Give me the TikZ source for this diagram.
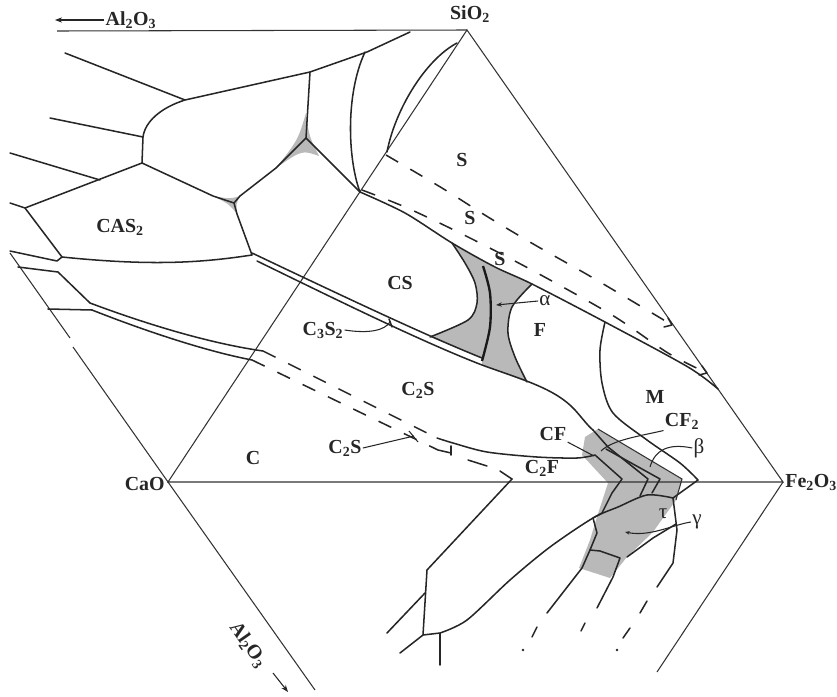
\documentclass[tikz,border=0pt]{standalone}
\usepackage{fontspec}
\setmainfont{Liberation Serif}
\usetikzlibrary{arrows.meta,calc}

\begin{document}
\begin{tikzpicture}[x=0.03cm,y=-0.03cm,
  every node/.style={font=\fontsize{17}{19}\selectfont\bfseries,text=black!85,inner sep=1pt},
  greek/.style={font=\fontsize{18}{20}\selectfont\mdseries},
  edge/.style={black!80,line width=0.9pt},
  bnd/.style={black!85,line width=1.3pt,line join=round,line cap=round},
  dsh/.style={black!85,line width=1.3pt,dash pattern=on 12pt off 12pt},
  thick line/.style={black!90,line width=2pt},
  shade/.style={fill=gray!55},
  lead/.style={black!85,line width=0.9pt}]
\useasboundingbox (0,0) rectangle (837,696);

\coordinate (SiO2) at (467,30);
\coordinate (CaO) at (168,482);
\coordinate (Fe2O3) at (783,482);

% shaded fields
\fill[shade] plot[smooth] coordinates {(452,243) (465,263) (475,283) (477,303) (468,320) (430,337)}
  -- (482,358) -- (482,365) -- (527,382)
  -- plot[smooth] coordinates {(527,382) (515,357) (508,333) (512,307) (532,284)}
  -- (495,267) -- cycle;
\fill[shade] (306,113) .. controls (298,140) .. (276,168) .. controls (302,150) .. (319,156) .. controls (309,136) .. (306,113) -- cycle;
\fill[shade] (213,196) .. controls (230,199) .. (240,196) .. controls (236,204) .. (237,214) .. controls (229,204) .. (213,196) -- cycle;
\fill[shade] (585,437) -- (598,429) -- (682,479) -- (676,500) -- (653,532) -- (627,557) -- (610,578)
  -- (579,568) -- (590,540) -- (596,520) -- (608,483) -- (582,455) -- cycle;

% triangle edges
\draw[edge] (57,31) -- (SiO2);
\draw[edge] (SiO2) -- (CaO) -- (Fe2O3) -- cycle;
\draw[edge] (10,253) -- (70,338);
\draw[edge] (73,347) -- (CaO) -- (315,690);
\draw[edge] (Fe2O3) -- (657,672);

% CaO-Al2O3-SiO2 side
\draw[bnd] (410,32) -- (367,52) -- (310,72) -- (185,100) -- (65,53);
\draw[bnd] (185,100) .. controls (160,108) and (145,122) .. (143,137) -- (142,163);
\draw[bnd] (50,118) -- (143,137);
\draw[bnd] (10,153) -- (100,180);
\draw[bnd] (142,163) -- (25,208) -- (10,203);
\draw[bnd] (25,208) -- (62,257) -- (57,261) -- (10,251);
\draw[bnd] (62,257) .. controls (150,266) and (200,263) .. (252,255);
\draw[bnd] (142,163) -- (213,196) -- (234,203) -- (240,196) -- (276,168) -- (306,138) -- (310,72);
\draw[bnd] (234,203) -- (237,214) -- (252,255);
\draw[bnd] (306,138) -- (360,192);
\draw[bnd] (365,52) .. controls (345,95) and (348,160) .. (360,192);
\draw[bnd] (457,43) .. controls (425,60) and (395,110) .. (387,152);
\draw[bnd] (18,267) -- (58,272) -- (90,303);
\draw[bnd] (48,309) -- (92,310);
\draw[bnd] (90,303) .. controls (130,318) and (200,342) .. (263,351);
\draw[bnd] (92,310) .. controls (135,327) and (200,350) .. (252,360);

% C2S field
\draw[dsh] (263,351) -- (437,438);
\draw[dsh] (252,360) -- (438,450);
\draw[bnd] (438,450) -- (451,453);
\draw[bnd] (451,446) -- (451,455);
\draw[bnd] (468,460) -- (487,466);
\draw[bnd] (500,471) -- (512,479);
\draw[bnd] plot[smooth] coordinates {(437,438) (453,443) (487,452) (537,457) (577,458) (595,455)} -- (622,479) -- (612,493) -- (602,513) -- (593,518);

% CS / C2S double line
\draw[bnd] (252,253) .. controls (330,290) and (420,333) .. (482,358);
\draw[bnd] (257,261) .. controls (333,298) and (420,341) .. (482,365)
  .. controls (520,379) and (555,388) .. (575,410) .. controls (583,419) and (588,426) .. (593,430);
\draw[bnd] (389,319) -- (392,327);

% CS, S and F fields
\draw[bnd] plot[smooth] coordinates {(360,192) (405,213) (452,243) (495,267) (532,284) (605,322) (688,367) (718,389)};
\draw[dsh] plot[smooth] coordinates {(386,155) (442,188) (488,217) (535,245) (588,275) (642,307) (672,325)};
\draw[dsh] plot[smooth] coordinates {(362,190) (405,207) (458,232) (528,268) (612,315) (668,353) (707,373)};
\draw[bnd] (664,327) -- (672,325) -- (668,318);
\draw[bnd] (699,375) -- (707,373) -- (702,366);
\draw[bnd] plot[smooth] coordinates {(452,243) (465,263) (475,283) (477,303) (468,320) (430,337)};
\draw[bnd] plot[smooth] coordinates {(527,382) (515,357) (508,333) (512,307) (532,284)};
\draw[thick line] plot[smooth] coordinates {(483,266) (490,293) (490,327) (482,361)};

% M field
\draw[bnd] plot[smooth] coordinates {(605,322) (600,350) (602,383) (613,413) (647,440) (680,463) (698,480)} -- (673,498);

% ferrite fields
\draw[bnd] (593,430) -- (608,447) -- (648,479) -- (640,496);
\draw[bnd] (606,449) -- (660,479) -- (652,493);
\draw[edge] (598,429) -- (682,479) -- (676,500);
\draw[bnd] plot[smooth] coordinates {(440,633) (467,620) (510,580) (550,547) (593,518) (618,507) (647,495) (673,498)};
\draw[bnd] (593,518) -- (597,533) -- (590,550) -- (582,568) -- (547,613);
\draw[bnd] (590,550) -- (600,551) -- (620,558) -- (613,577) -- (597,608);
\draw[bnd] (673,498) -- (677,530) -- (673,563) -- (657,587);
\draw[bnd] (627,557) -- (653,538) -- (676,524);
\draw[bnd] (537,627) -- (532,637);
\draw[bnd] (585,623) -- (581,631);
\draw[bnd] (647,601) -- (640,613);
\draw[bnd] (630,628) -- (623,638);
\fill[black!85] (523,650) circle (1.3) (617,650) circle (1.3);

% CaO-Fe2O3-Al2O3 side
\draw[bnd] (512,479) -- (427,570) -- (423,635) -- (440,633) -- (440,665);
\draw[bnd] (387,633) -- (425,593);
\draw[bnd] (400,653) -- (423,635);

% labels
\node (alTop) at (131,20) {Al\textsubscript{2}O\textsubscript{3}};
\coordinate (alTip) at (55,20);
\draw[lead,-{Stealth[length=6pt]}] (alTop.west) -- (alTip);
\node (sio2) at (470,14) {SiO\textsubscript{2}};
\node[anchor=east] (cao) at (166,484) {CaO};
\node[anchor=west] (fe2o3) at (784,482) {Fe\textsubscript{2}O\textsubscript{3}};
\node[rotate=-55] (alBot) at (248,645) {Al\textsubscript{2}O\textsubscript{3}};
\coordinate (alTail) at (273,673);
\coordinate (alHead) at (288,692);
\draw[lead,-{Stealth[length=6pt]}] (alTail) -- (alHead);

\node (s1) at (462,160) {S};
\node (s2) at (470,218) {S};
\node (s3) at (500,259) {S};
\node (cas2) at (120,227) {CAS\textsubscript{2}};
\node (cs) at (400,283) {CS};
\node (f) at (540,330) {F};
\node (m) at (655,397) {M};
\node (c) at (253,458) {C};
\node (c2s) at (418,390) {C\textsubscript{2}S};
\node (c2f) at (542,468) {C\textsubscript{2}F};

\node (c3s2) at (323,330) {C\textsubscript{3}S\textsubscript{2}};
\coordinate (c3s2End) at (390,322);
\draw[lead] (c3s2.east) .. controls (370,334) and (385,330) .. (c3s2End);
\node (c2sB) at (345,448) {C\textsubscript{2}S};
\coordinate (c2sEnd) at (414,436);
\draw[lead] (c2sB.east) -- (c2sEnd);
\draw[lead] (409,431) -- (418,442);
\node[greek] (alpha) at (545,301) {α};
\coordinate (alphaEnd) at (496,305);
\draw[lead,-{Stealth[length=5pt]}] (alpha.west) -- (alphaEnd);
\node (cf) at (553,434) {CF};
\coordinate (cfEnd) at (594,456);
\draw[lead] (cf.south east) -- (cfEnd);
\node (cf2) at (682,421) {CF\textsubscript{2}};
\coordinate (cf2End) at (601,451);
\draw[lead] (cf2.south west) .. controls (640,436) and (612,440) .. (cf2End);
\node[greek] (beta) at (699,448) {β};
\coordinate (betaEnd) at (650,467);
\draw[lead] (beta.west) .. controls (668,443) and (655,450) .. (betaEnd);
\node[greek] (tau) at (663,514) {τ};
\node[greek] (gamma) at (697,522) {γ};
\coordinate (gammaEnd) at (625,532);
\draw[lead,-{Stealth[length=4pt]}] (gamma.west) .. controls (672,525) and (650,537) .. (gammaEnd);
\end{tikzpicture}
\end{document}
